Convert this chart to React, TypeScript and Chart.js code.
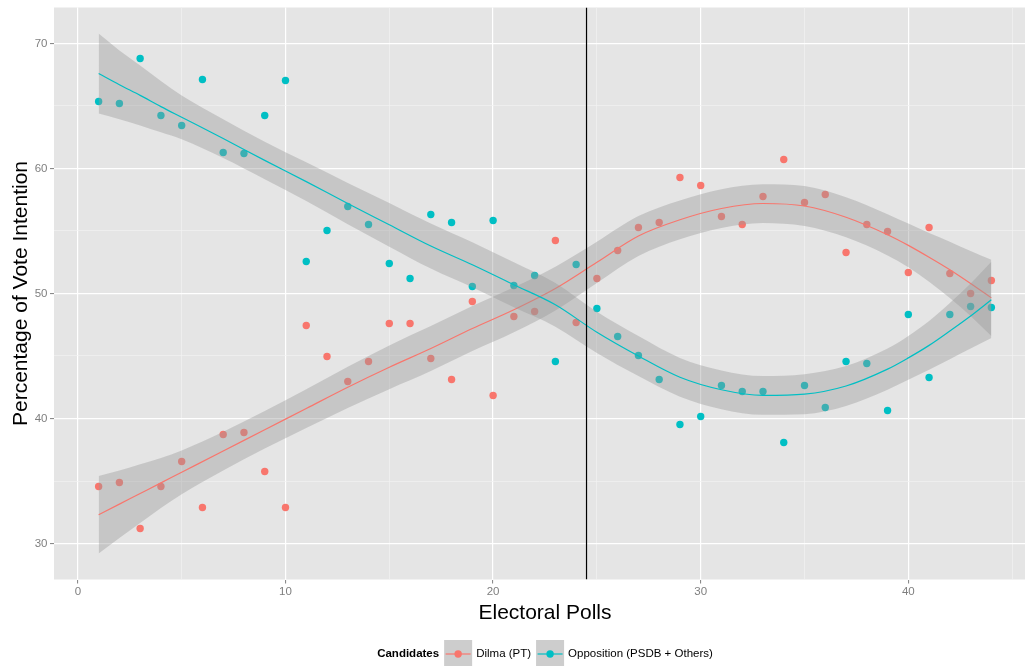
import React, { useEffect, useRef } from "react";
import { Chart, registerables } from "chart.js";

Chart.register(...registerables);

const FONT = '"Liberation Sans", Arial, Helvetica, sans-serif';

// ---- data ----
const polls = [
  1, 2, 3, 4, 5, 6, 7, 8, 9, 10, 11, 12, 13, 14, 15, 16, 17, 18, 19, 20, 21, 22,
  23, 24, 25, 26, 27, 28, 29, 30, 31, 32, 33, 34, 35, 36, 37, 38, 39, 40, 41, 42, 43, 44,
];
const dilma = [
  34.56, 34.88, 31.2, 34.56, 36.56, 32.88, 38.72, 38.88, 35.76, 32.88, 47.44, 44.96,
  42.96, 44.56, 47.6, 47.6, 44.8, 43.12, 49.36, 41.84, 48.16, 48.56, 54.24, 47.68,
  51.2, 53.44, 55.28, 55.68, 59.28, 58.64, 56.16, 55.52, 57.76, 60.72, 57.28, 57.92,
  53.28, 55.52, 54.96, 51.68, 55.28, 51.6, 50.0, 51.04,
];
const opposition = [
  65.36, 65.2, 68.8, 64.24, 63.44, 67.12, 61.28, 61.2, 64.24, 67.04, 52.56, 55.04,
  56.96, 55.52, 52.4, 51.2, 56.32, 55.68, 50.56, 55.84, 50.64, 51.44, 44.56, 52.32,
  48.8, 46.56, 45.04, 43.12, 39.52, 40.16, 42.64, 42.16, 42.16, 38.08, 42.64, 40.88,
  44.56, 44.4, 40.64, 48.32, 43.28, 48.32, 48.96, 48.88,
];

// smoothed trend and confidence band
const smoothX = [1, 2, 3, 4, 5, 7, 9, 11, 13, 15, 17, 19, 21, 23, 25, 27, 29, 31, 33, 35, 37, 39, 40, 41, 42, 43, 44];
const dilmaFit = [
  32.3, 33.15, 34.0, 34.85, 35.7, 37.4, 39.1, 40.8, 42.5, 44.1, 45.6, 47.2, 48.7, 50.4,
  52.5, 54.6, 55.9, 56.8, 57.2, 57.0, 56.1, 54.7, 53.85, 52.9, 51.9, 50.8, 49.65,
];
const dilmaLow = [
  29.2, 30.45, 31.65, 32.85, 33.95, 35.85, 37.6, 39.25, 40.85, 42.35, 43.8, 45.4, 46.9,
  48.65, 50.85, 53.0, 54.35, 55.25, 55.65, 55.4, 54.5, 53.05, 52.1, 50.95, 49.65, 48.2, 46.6,
];
const dilmaHigh = [
  35.4, 35.85, 36.35, 36.85, 37.45, 38.95, 40.6, 42.35, 44.15, 45.85, 47.4, 49.0, 50.5,
  52.15, 54.15, 56.2, 57.45, 58.35, 58.75, 58.6, 57.7, 56.35, 55.6, 54.85, 54.15, 53.4, 52.7,
];
const oppFit = [
  67.6, 66.7, 65.85, 64.95, 64.1, 62.4, 60.65, 58.95, 57.2, 55.5, 53.8, 52.3, 50.7, 49.1,
  46.9, 45.0, 43.3, 42.3, 41.85, 41.95, 42.6, 43.95, 44.85, 45.85, 47.0, 48.2, 49.5,
];
const oppLow = [
  64.4, 63.95, 63.45, 62.9, 62.35, 60.85, 59.15, 57.4, 55.55, 53.75, 52.0, 50.5, 48.9,
  47.35, 45.25, 43.4, 41.75, 40.75, 40.3, 40.35, 41.0, 42.3, 43.1, 43.9, 44.75, 45.6, 46.45,
];
const oppHigh = [
  70.8, 69.45, 68.25, 67.0, 65.85, 63.95, 62.15, 60.5, 58.85, 57.25, 55.6, 54.1, 52.5,
  50.85, 48.55, 46.6, 44.85, 43.85, 43.4, 43.55, 44.2, 45.6, 46.6, 47.8, 49.25, 50.8, 52.55,
];

const cutoffPoll = 24.5;

const xGrid = [0, 5, 10, 15, 20, 25, 30, 35, 40, 45];
const xLabels = [0, 10, 20, 30, 40];
const yGrid = [30, 35, 40, 45, 50, 55, 60, 65, 70];
const yLabels = [30, 40, 50, 60, 70];

const seriesNames = ["Dilma (PT)", "Opposition (PSDB + Others)"];
const seriesColors = ["#F8766D", "#00BFC4"];
const legendTitle = "Candidates";
const xTitle = "Electoral Polls";
const yTitle = "Percentage of Vote Intention";

const X_MIN = -1.15;
const X_MAX = 45.62;
const Y_MIN = 27.12;
const Y_MAX = 72.88;

const BAND = "rgba(153,153,153,0.4)";

const pts = (xs: number[], ys: number[]) => xs.map((x, i) => ({ x, y: ys[i] }));

const panelPlugin = {
  id: "panel",
  beforeDraw(chart: any) {
    const { ctx, chartArea } = chart;
    ctx.save();
    ctx.fillStyle = "#FFFFFF";
    ctx.fillRect(0, 0, chart.width, chart.height);
    ctx.fillStyle = "#E5E5E5";
    ctx.fillRect(chartArea.left, chartArea.top, chartArea.right - chartArea.left, chartArea.bottom - chartArea.top);
    ctx.restore();
  },
  afterDraw(chart: any) {
    const { ctx, chartArea } = chart;
    const xs = chart.scales.x;
    // full (uncropped) panel centre
    const center = (chartArea.left + xs.getPixelForValue(46.15)) / 2;
    ctx.save();
    ctx.fillStyle = "#000000";
    ctx.font = `21px ${FONT}`;
    ctx.textAlign = "center";
    ctx.textBaseline = "alphabetic";
    ctx.fillText(xTitle, center, 619);
    ctx.save();
    ctx.translate(27, (chartArea.top + chartArea.bottom) / 2);
    ctx.rotate(-Math.PI / 2);
    ctx.fillText(yTitle, 0, 0);
    ctx.restore();

    // legend
    const ly = 654;
    const key = 28;
    ctx.font = `bold 11.5px ${FONT}`;
    const tw = ctx.measureText(legendTitle).width;
    ctx.font = `11.5px ${FONT}`;
    const w1 = ctx.measureText(seriesNames[0]).width;
    const w2 = ctx.measureText(seriesNames[1]).width;
    const total = tw + 5 + key + 4 + w1 + 5 + key + 4 + w2;
    let x = center - total / 2;
    ctx.textAlign = "left";
    ctx.textBaseline = "middle";
    ctx.font = `bold 11.5px ${FONT}`;
    ctx.fillText(legendTitle, x, ly);
    x += tw + 5;
    const widths = [w1, w2];
    for (let i = 0; i < 2; i++) {
      ctx.fillStyle = "#CDCDCD";
      ctx.fillRect(x, ly - key / 2, key, key);
      ctx.strokeStyle = seriesColors[i];
      ctx.lineWidth = 1.2;
      ctx.beginPath();
      ctx.moveTo(x + 1.5, ly);
      ctx.lineTo(x + key - 1.5, ly);
      ctx.stroke();
      ctx.fillStyle = seriesColors[i];
      ctx.beginPath();
      ctx.arc(x + key / 2, ly, 3.7, 0, Math.PI * 2);
      ctx.fill();
      x += key + 4;
      ctx.fillStyle = "#000000";
      ctx.font = `11.5px ${FONT}`;
      ctx.fillText(seriesNames[i], x, ly);
      x += widths[i] + 5;
    }
    ctx.restore();
  },
};

const isMajor = (v: number) => v % 10 === 0;

function makeScale(min: number, max: number, grid: number[], labels: number[], isX: boolean) {
  return {
    type: "linear",
    min,
    max,
    afterBuildTicks(s: any) {
      s.ticks = grid.map((v) => ({ value: v }));
    },
    afterFit(s: any) {
      if (isX) s.height = 86.5;
      else s.width = 54;
      s.paddingLeft = 0;
      s.paddingRight = 0;
      s.paddingTop = 0;
      s.paddingBottom = 0;
    },
    ticks: {
      autoSkip: false,
      maxRotation: 0,
      minRotation: 0,
      padding: isX ? 1.5 : 2.5,
      color: "#7F7F7F",
      font: { family: FONT, size: 11.5 },
      callback: (v: number) => (labels.includes(v) ? String(v) : ""),
    },
    grid: {
      drawTicks: true,
      tickLength: 4,
      tickWidth: 1,
      color: (c: any) => (isMajor(c.tick.value) ? "#FFFFFF" : "#F2F2F2"),
      lineWidth: (c: any) => (isMajor(c.tick.value) ? 1.2 : 0.7),
      tickColor: (c: any) => (isMajor(c.tick.value) ? "#7F7F7F" : "rgba(0,0,0,0)"),
    },
    border: { display: false },
  };
}

export default function App() {
  const ref = useRef<HTMLCanvasElement>(null);

  useEffect(() => {
    const canvas = ref.current;
    if (!canvas) return;
    const lineBase = {
      showLine: true,
      pointRadius: 0,
      cubicInterpolationMode: "monotone",
      fill: false,
    };
    const chart = new Chart(canvas, {
      type: "line",
      data: {
        datasets: [
          {
            // 0 vertical reference line
            data: [
              { x: cutoffPoll, y: Y_MIN },
              { x: cutoffPoll, y: Y_MAX },
            ],
            borderColor: "#000000",
            borderWidth: 1.2,
            pointRadius: 0,
            tension: 0,
            fill: false,
            order: 0,
          },
          {
            // 1 opposition trend
            ...lineBase,
            data: pts(smoothX, oppFit),
            borderColor: seriesColors[1],
            borderWidth: 1.2,
            order: 1,
          },
          {
            // 2 opposition band high
            ...lineBase,
            data: pts(smoothX, oppHigh),
            borderWidth: 0,
            borderColor: "rgba(0,0,0,0)",
            backgroundColor: BAND,
            fill: 3,
            order: 2,
          },
          {
            // 3 opposition band low
            ...lineBase,
            data: pts(smoothX, oppLow),
            borderWidth: 0,
            borderColor: "rgba(0,0,0,0)",
            order: 3,
          },
          {
            // 4 dilma trend
            ...lineBase,
            data: pts(smoothX, dilmaFit),
            borderColor: seriesColors[0],
            borderWidth: 1.2,
            order: 4,
          },
          {
            // 5 dilma band high
            ...lineBase,
            data: pts(smoothX, dilmaHigh),
            borderWidth: 0,
            borderColor: "rgba(0,0,0,0)",
            backgroundColor: BAND,
            fill: 6,
            order: 5,
          },
          {
            // 6 dilma band low
            ...lineBase,
            data: pts(smoothX, dilmaLow),
            borderWidth: 0,
            borderColor: "rgba(0,0,0,0)",
            order: 6,
          },
          {
            // 7 opposition points
            data: pts(polls, opposition),
            showLine: false,
            pointRadius: 3.7,
            pointBorderWidth: 0,
            pointBackgroundColor: seriesColors[1],
            borderColor: seriesColors[1],
            order: 7,
          },
          {
            // 8 dilma points
            data: pts(polls, dilma),
            showLine: false,
            pointRadius: 3.7,
            pointBorderWidth: 0,
            pointBackgroundColor: seriesColors[0],
            borderColor: seriesColors[0],
            order: 8,
          },
        ] as any,
      },
      options: {
        responsive: false,
        devicePixelRatio: 1,
        animation: false,
        events: [],
        layout: { autoPadding: false, padding: { top: 7.5, right: 0, bottom: 0, left: 0 } },
        plugins: {
          legend: { display: false },
          tooltip: { enabled: false },
        },
        scales: {
          x: makeScale(X_MIN, X_MAX, xGrid, xLabels, true) as any,
          y: makeScale(Y_MIN, Y_MAX, yGrid, yLabels, false) as any,
        },
      },
      plugins: [panelPlugin],
    });
    return () => chart.destroy();
  }, []);

  return (
    <div style={{ position: "fixed", left: 0, top: 0, width: 1025, height: 666, background: "#FFFFFF" }}>
      <canvas ref={ref} width={1025} height={666} style={{ display: "block", width: 1025, height: 666 }} />
    </div>
  );
}
